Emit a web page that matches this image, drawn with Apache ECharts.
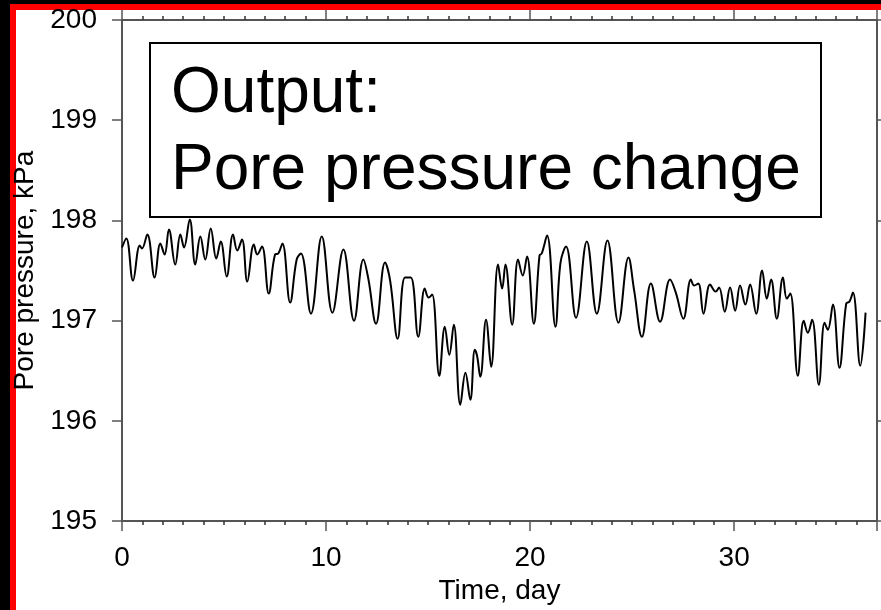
<!DOCTYPE html>
<html>
<head>
<meta charset="utf-8">
<script src="https://cdn.jsdelivr.net/npm/echarts@6/dist/echarts.min.js"></script>
<style>
  html, body { margin: 0; padding: 0; background: #000; }
  #chart { width: 881px; height: 610px; }
</style>
</head>
<body>
<div id="chart"></div>
<script>
// Elapsed time since the start of monitoring (days)
const timeDays = [
  0.00, 0.21, 0.54, 0.87, 0.98, 1.24, 1.60, 1.88, 2.09, 2.30,
  2.61, 2.86, 3.04, 3.32, 3.59, 3.84, 4.08, 4.35, 4.62, 4.84,
  5.13, 5.44, 5.65, 5.88, 6.14, 6.46, 6.63, 6.86, 7.19, 7.50,
  7.66, 7.86, 8.24, 8.56, 8.77, 9.26, 9.79, 10.31, 10.85, 11.37,
  11.83, 12.07, 12.45, 12.89, 13.14, 13.51, 13.87, 14.15, 14.52, 14.84,
  15.03, 15.20, 15.55, 15.82, 16.04, 16.26, 16.58, 16.83, 17.07, 17.29,
  17.40, 17.56, 17.84, 18.09, 18.43, 18.63, 18.79, 19.12, 19.41, 19.64,
  19.85, 20.18, 20.46, 20.57, 20.83, 21.24, 21.49, 21.76, 22.25, 22.78,
  23.27, 23.79, 24.33, 24.82, 25.10, 25.48, 25.92, 26.37, 26.86, 27.14,
  27.51, 27.88, 28.04, 28.24, 28.50, 28.82, 29.10, 29.26, 29.54, 29.80,
  30.05, 30.29, 30.55, 30.78, 31.08, 31.37, 31.60, 31.81, 32.09, 32.39,
  32.58, 32.75, 33.12, 33.41, 33.61, 33.82, 34.15, 34.43, 34.59, 34.84,
  35.16, 35.49, 35.65, 35.82, 36.18, 36.44
];

// Measured pore pressure (kPa)
const porePressure = [
  197.73, 197.82, 197.40, 197.75, 197.72, 197.86, 197.43, 197.77, 197.66, 197.91,
  197.56, 197.86, 197.73, 198.01, 197.56, 197.84, 197.61, 197.92, 197.62, 197.79,
  197.44, 197.86, 197.70, 197.81, 197.39, 197.76, 197.66, 197.74, 197.27, 197.66,
  197.67, 197.77, 197.18, 197.61, 197.67, 197.07, 197.84, 197.08, 197.71, 197.00,
  197.61, 197.42, 196.97, 197.58, 197.40, 196.82, 197.43, 197.43, 196.84, 197.32,
  197.23, 197.26, 196.45, 196.94, 196.66, 196.96, 196.16, 196.48, 196.21, 196.71,
  196.65, 196.44, 197.01, 196.54, 197.56, 197.32, 197.56, 196.96, 197.61, 197.45,
  197.64, 196.97, 197.65, 197.67, 197.85, 196.94, 197.58, 197.74, 197.03, 197.79,
  197.07, 197.80, 196.98, 197.63, 197.30, 196.84, 197.37, 196.99, 197.41, 197.28,
  197.02, 197.41, 197.35, 197.37, 197.07, 197.36, 197.29, 197.33, 197.09, 197.33,
  197.10, 197.35, 197.16, 197.36, 197.07, 197.50, 197.22, 197.41, 197.02, 197.43,
  197.22, 197.27, 196.45, 197.00, 196.88, 197.01, 196.36, 196.98, 196.91, 197.16,
  196.53, 197.17, 197.19, 197.28, 196.55, 197.08
];

const titleLines = ['Output:', 'Pore pressure change'];
const xAxisTitle = 'Time, day';
const yAxisTitle = 'Pore pressure, kPa';

const FONT = '"Liberation Sans", Arial, Helvetica, sans-serif';
const AXIS_GRAY = '#555';

const seriesData = timeDays.map((t, i) => [t, porePressure[i]]);

const chart = echarts.init(document.getElementById('chart'), null, { renderer: 'canvas' });

const baseAxisLine = { show: true, onZero: false, lineStyle: { color: AXIS_GRAY, width: 2 } };

chart.setOption({
  animation: false,
  backgroundColor: '#000',
  textStyle: { fontFamily: FONT },
  grid: { left: 122, top: 20, width: 755, height: 503, containLabel: false },
  xAxis: [
    {
      type: 'value', position: 'bottom', min: 0, max: 37, interval: 10,
      axisLine: baseAxisLine,
      axisTick: { show: true, inside: false, length: 10, lineStyle: { color: AXIS_GRAY, width: 1.5 } },
      minorTick: { show: true, splitNumber: 10, length: 4, lineStyle: { color: '#333', width: 1.5 } },
      splitLine: { show: false },
      axisLabel: { color: '#000', fontSize: 28, fontFamily: FONT, margin: 23,
        formatter: v => (v % 10 === 0 ? String(v) : '') },
      name: xAxisTitle, nameLocation: 'middle', nameGap: 54,
      nameTextStyle: { color: '#000', fontSize: 28, fontFamily: FONT }
    },
    {
      type: 'value', position: 'top', min: 0, max: 37, interval: 10,
      axisLine: baseAxisLine,
      axisTick: { show: true, inside: false, length: 10, lineStyle: { color: AXIS_GRAY, width: 1.5 } },
      minorTick: { show: true, splitNumber: 10, length: 4, lineStyle: { color: '#333', width: 1.5 } },
      splitLine: { show: false },
      axisLabel: { show: false }
    }
  ],
  yAxis: [
    {
      type: 'value', position: 'left', min: 195, max: 200, interval: 1,
      axisLine: baseAxisLine,
      axisTick: { show: true, inside: false, length: 10, lineStyle: { color: AXIS_GRAY, width: 1.5 } },
      splitLine: { show: false },
      axisLabel: { color: '#000', fontSize: 28, fontFamily: FONT, margin: 25 },
      name: yAxisTitle, nameLocation: 'middle', nameGap: 77, nameRotate: 90,
      nameTextStyle: { color: '#000', fontSize: 28, fontFamily: FONT }
    },
    {
      type: 'value', position: 'right', min: 195, max: 200, interval: 1,
      axisLine: baseAxisLine,
      axisTick: { show: true, inside: false, length: 10, lineStyle: { color: AXIS_GRAY, width: 1.5 } },
      splitLine: { show: false },
      axisLabel: { show: false }
    }
  ],
  graphic: [
    // page frame: black surround, red border, white sheet
    { type: 'rect', z: -10, silent: true, shape: { x: 10, y: 4, width: 871, height: 606 }, style: { fill: '#ff0000' } },
    { type: 'rect', z: -9, silent: true, shape: { x: 16, y: 10, width: 865, height: 600 }, style: { fill: '#fff' } },
    // caption box
    { type: 'rect', z: 100, silent: true, shape: { x: 150, y: 43, width: 671, height: 174 },
      style: { fill: '#fff', stroke: '#000', lineWidth: 2 } },
    { type: 'text', z: 101, silent: true, x: 171, y: 94,
      style: { text: titleLines[0], font: '64px ' + FONT, fill: '#000', verticalAlign: 'middle', align: 'left' } },
    { type: 'text', z: 101, silent: true, x: 171, y: 171,
      style: { text: titleLines[1], font: '64px ' + FONT, fill: '#000', verticalAlign: 'middle', align: 'left' } }
  ],
  series: [
    {
      type: 'line', xAxisIndex: 0, yAxisIndex: 0,
      data: seriesData,
      showSymbol: false, symbol: 'none',
      smooth: 0.4,
      lineStyle: { color: '#000', width: 2 },
      z: 5
    }
  ]
});
</script>
</body>
</html>
